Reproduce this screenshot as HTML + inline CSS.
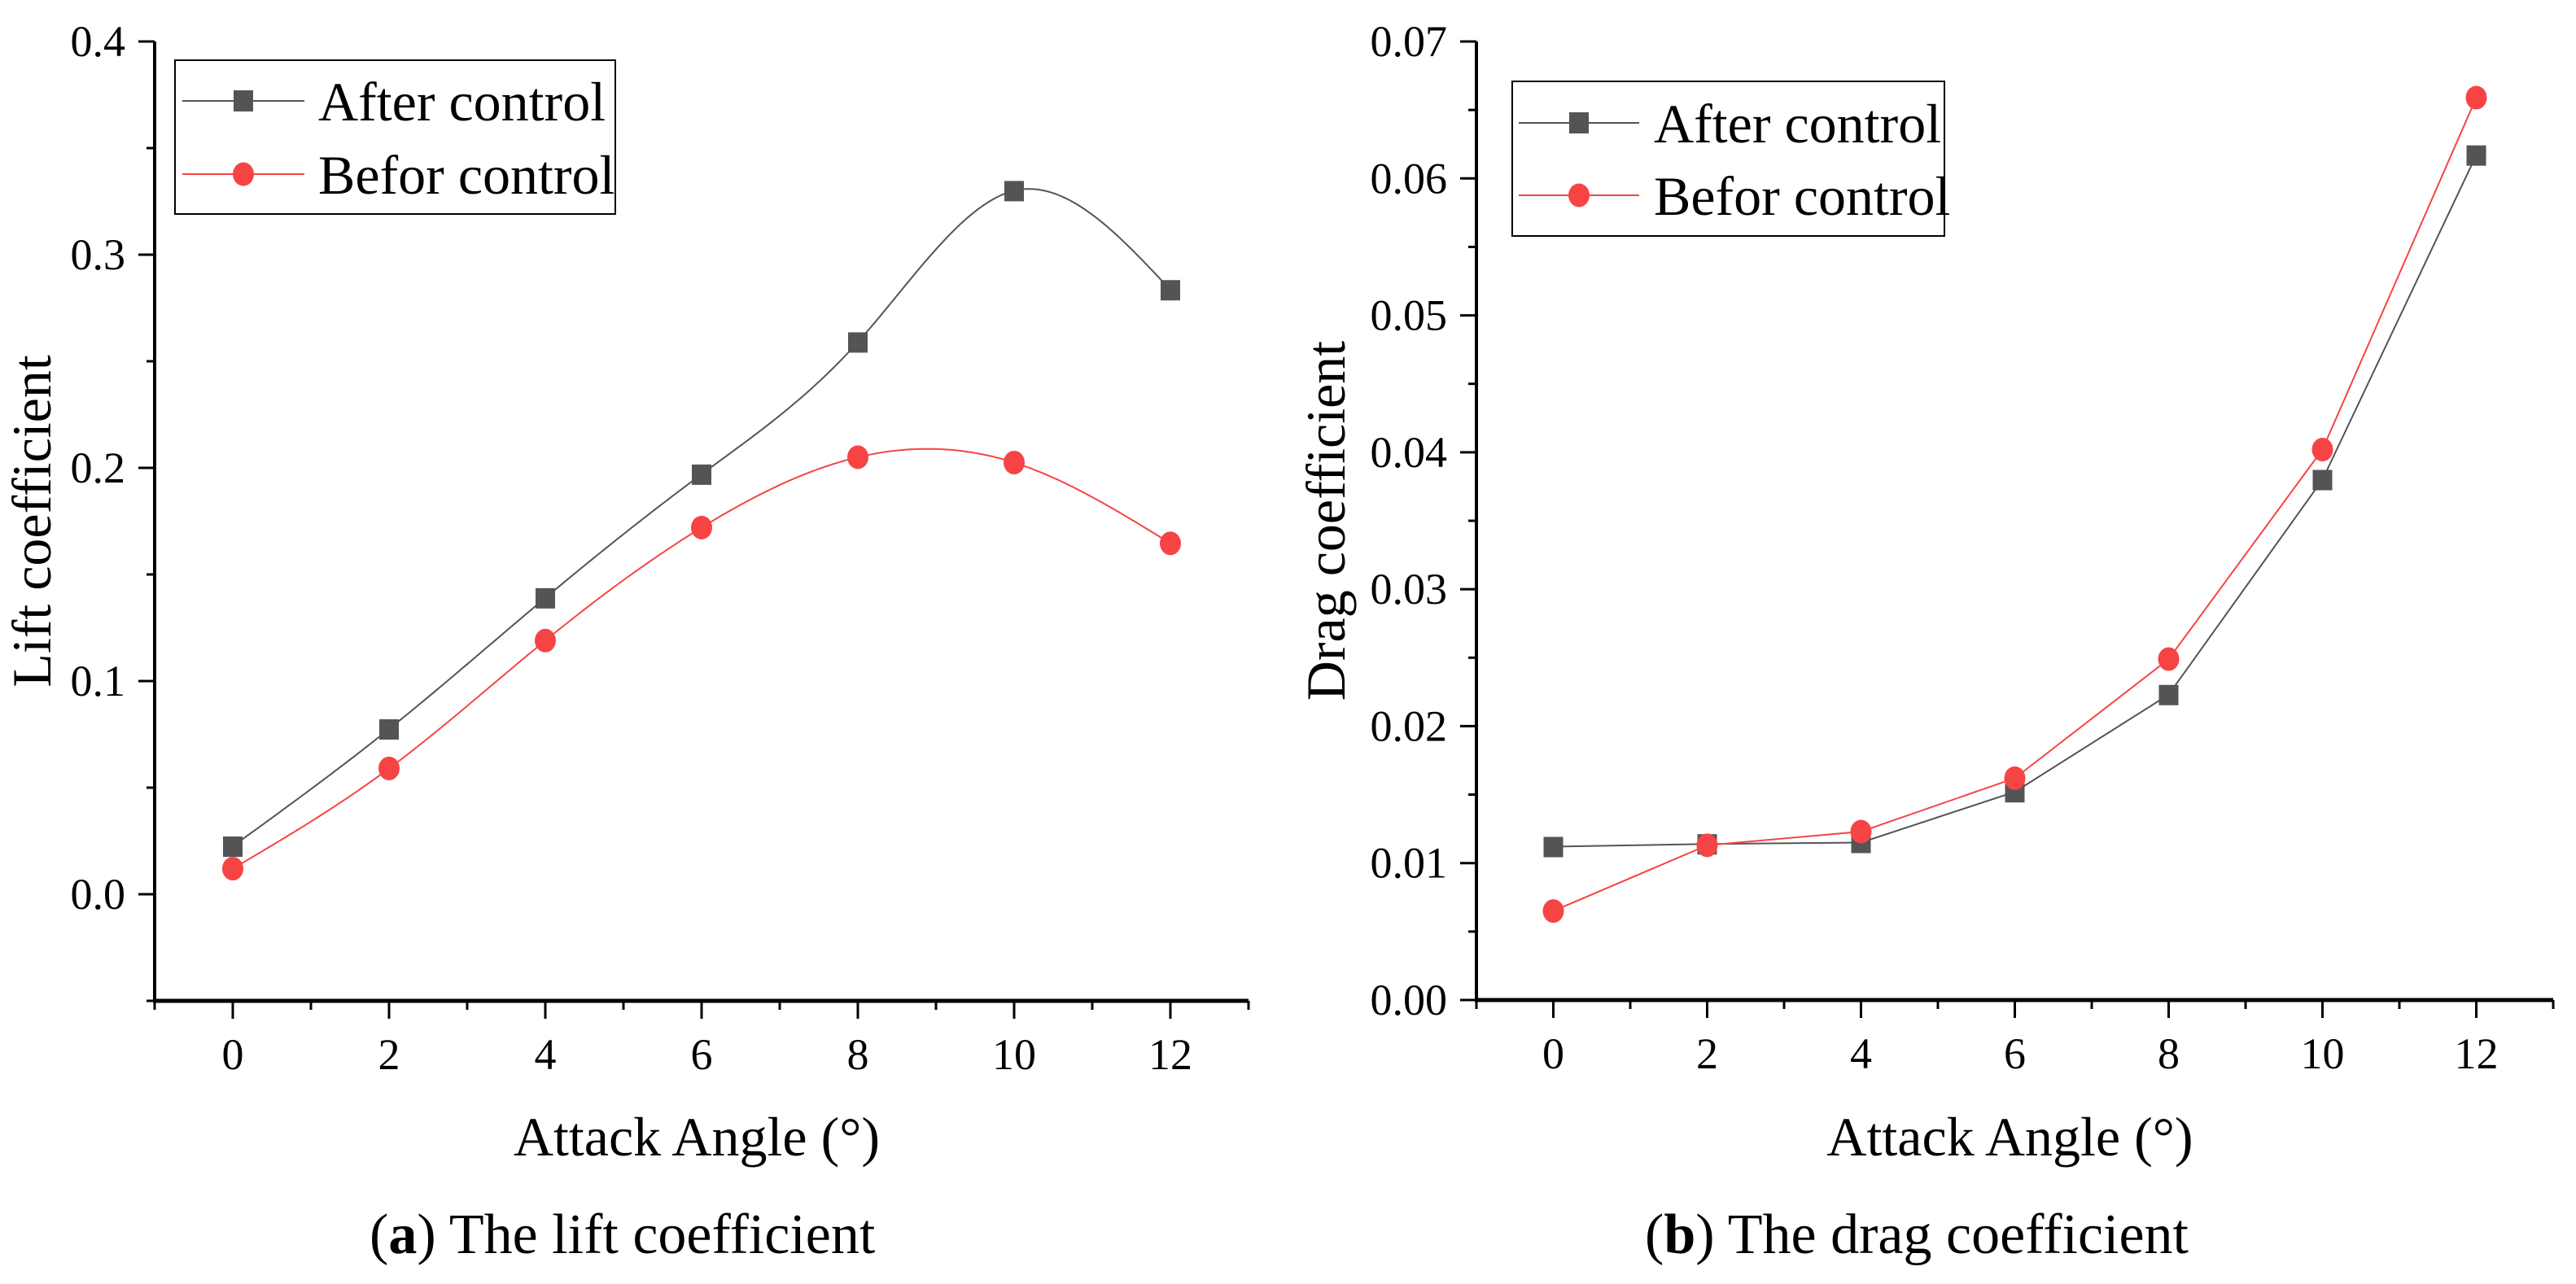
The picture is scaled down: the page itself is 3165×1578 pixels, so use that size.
<!DOCTYPE html>
<html><head><meta charset="utf-8"><style>
html,body{margin:0;padding:0;background:#fff;}
svg{display:block;}
svg text, body{font-family:"Liberation Serif","Times New Roman",Times,"Noto Serif CJK SC","DejaVu Serif",serif;}
</style></head><body>
<svg id="fig" width="3165" height="1578" viewBox="0 0 3165 1578" xmlns="http://www.w3.org/2000/svg"></svg>
<script>
const angles = [0, 2, 4, 6, 8, 10, 12];
const liftAfter = [0.0225, 0.0775, 0.139, 0.197, 0.259, 0.330, 0.2835];
const liftBefore = [0.012, 0.059, 0.119, 0.172, 0.205, 0.2025, 0.1646];
const dragAfter = [0.0112, 0.0114, 0.0115, 0.0152, 0.0223, 0.0380, 0.0617];
const dragBefore = [0.0065, 0.0113, 0.0123, 0.0162, 0.0249, 0.0402, 0.0659];
const xTicks = [0, 2, 4, 6, 8, 10, 12];
const liftYTicks = [0.0, 0.1, 0.2, 0.3, 0.4];
const liftYTickLabels = ["0.0", "0.1", "0.2", "0.3", "0.4"];
const dragYTicks = [0.00, 0.01, 0.02, 0.03, 0.04, 0.05, 0.06, 0.07];
const dragYTickLabels = ["0.00", "0.01", "0.02", "0.03", "0.04", "0.05", "0.06", "0.07"];
const seriesNames = ["After control", "Befor control"];

const NS = "http://www.w3.org/2000/svg";
const svg = document.getElementById('fig');
const GRAY = "#545454", RED = "#f64444";

function mk(tag, attrs, parent) {
  const e = document.createElementNS(NS, tag);
  for (const k in attrs) e.setAttribute(k, attrs[k]);
  if (tag === 'text') e.style.fontFamily = '"Liberation Serif","Times New Roman",Times,"Noto Serif CJK SC","DejaVu Serif",serif';
  (parent || svg).appendChild(e);
  return e;
}

function spline(xs, ys) {
  const n = xs.length, h = [], al = [], l = [1], mu = [0], z = [0], c = new Array(n).fill(0), b = [], d = [];
  for (let i = 0; i < n - 1; i++) h.push(xs[i + 1] - xs[i]);
  for (let i = 1; i < n - 1; i++) al[i] = 3 / h[i] * (ys[i + 1] - ys[i]) - 3 / h[i - 1] * (ys[i] - ys[i - 1]);
  for (let i = 1; i < n - 1; i++) {
    l[i] = 2 * (xs[i + 1] - xs[i - 1]) - h[i - 1] * mu[i - 1];
    mu[i] = h[i] / l[i];
    z[i] = (al[i] - h[i - 1] * z[i - 1]) / l[i];
  }
  c[n - 1] = 0;
  for (let j = n - 2; j >= 1; j--) c[j] = z[j] - mu[j] * c[j + 1];
  c[0] = 0;
  for (let j = 0; j < n - 1; j++) {
    b[j] = (ys[j + 1] - ys[j]) / h[j] - h[j] * (c[j + 1] + 2 * c[j]) / 3;
    d[j] = (c[j + 1] - c[j]) / (3 * h[j]);
  }
  return function (x) {
    let j = 0;
    while (j < n - 2 && x > xs[j + 1]) j++;
    const t = x - xs[j];
    return ys[j] + b[j] * t + c[j] * t * t + d[j] * t * t * t;
  };
}

function chart(o) {
  const g = mk('g', {});
  
  
  const X = v => o.x0 + (v - o.xmin) / (o.xmax - o.xmin) * (o.x1 - o.x0);
  const Y = v => o.y1 - (v - o.ymin) / (o.ymax - o.ymin) * (o.y1 - o.y0);
  const ax = mk('line', {x1: o.x0, y1: o.y0, x2: o.x0, y2: o.y1 + 2, stroke: '#000', 'stroke-width': 4}, g);
  
  
  const bx = mk('line', {x1: o.x0 - 2, y1: o.y1, x2: o.x1, y2: o.y1, stroke: '#000', 'stroke-width': 5}, g);
  
  
  for (let v = o.xmin; v <= o.xmax; v++) {
    const major = xTicks.indexOf(v) >= 0;
    const t = mk('line', {x1: X(v), y1: o.y1, x2: X(v), y2: o.y1 + (major ? 22 : 11), stroke: '#000', 'stroke-width': 3}, g);
    
    
  }
  xTicks.forEach(v => {
    const t = mk('text', {x: X(v), y: o.y1 + 84, 'font-size': 54, 'text-anchor': 'middle'}, g);
    t.textContent = String(v);
    
    
  });
  const step = o.yTicks[1] - o.yTicks[0];
  for (let k = Math.round((o.ymin) / (step / 2)); k * step / 2 <= o.ymax + 1e-9; k++) {
    const v = k * step / 2;
    const major = k % 2 === 0;
    const t = mk('line', {x1: o.x0, y1: Y(v), x2: o.x0 - (major ? 20 : 10), y2: Y(v), stroke: '#000', 'stroke-width': 3}, g);
    
    
  }
  o.yTicks.forEach((v, i) => {
    const t = mk('text', {x: o.x0 - 36, y: Y(v) + 18, 'font-size': 54, 'text-anchor': 'end'}, g);
    t.textContent = o.yLabels[i];
    
    
  });
  const xt = mk('text', {x: (o.x0 + o.x1) / 2 - 6, y: 1420, 'font-size': 68, 'text-anchor': 'middle'}, g);
  xt.textContent = 'Attack Angle (°)';
  
  
  const yt = mk('text', {x: 0, y: 0, 'font-size': 68, 'text-anchor': 'middle', transform: `translate(${o.ylx},${(o.y0 + o.y1) / 2}) rotate(-90)`}, g);
  yt.textContent = o.ylabel;
  
  
  const cap = mk('text', {x: o.capX, y: 1540, 'font-size': 70}, g);
  
  
  cap.innerHTML = '(<tspan font-weight="bold">' + o.capLetter + '</tspan>) ' + o.capText;
  const series = [{ys: o.after, color: GRAY, sq: true, nm: 'series-after-control'}, {ys: o.before, color: RED, sq: false, nm: 'series-befor-control'}];
  series.forEach(s => {
    let d = '';
    if (o.smooth) {
      const f = spline(angles, s.ys);
      for (let i = 0; i <= 240; i++) {
        const xv = angles[0] + (angles[angles.length - 1] - angles[0]) * i / 240;
        d += (i ? 'L' : 'M') + X(xv).toFixed(1) + ',' + Y(f(xv)).toFixed(1);
      }
    } else {
      angles.forEach((a, i) => { d += (i ? 'L' : 'M') + X(a).toFixed(1) + ',' + Y(s.ys[i]).toFixed(1); });
    }
    const p = mk('path', {d: d, fill: 'none', stroke: s.color, 'stroke-width': 2}, g);
    
    
    angles.forEach((a, i) => {
      let m;
      if (s.sq) m = mk('rect', {x: X(a) - 12, y: Y(s.ys[i]) - 12, width: 24, height: 25, fill: GRAY}, g);
      else m = mk('ellipse', {cx: X(a), cy: Y(s.ys[i]), rx: 13, ry: 14.5, fill: RED}, g);
      
      
    });
  });
  const L = o.leg;
  const lg = mk('g', {}, g);
  
  
  mk('rect', {x: L.x, y: L.y, width: L.w, height: L.h, fill: '#fff', stroke: '#000', 'stroke-width': 2}, lg);
  [[L.r1, GRAY, true], [L.r2, RED, false]].forEach((r, i) => {
    const e = mk('g', {}, lg);
    
    
    mk('line', {x1: L.lx0, y1: r[0], x2: L.lx1, y2: r[0], stroke: r[1], 'stroke-width': 2}, e);
    const mx = (L.lx0 + L.lx1) / 2;
    if (r[2]) mk('rect', {x: mx - 12, y: r[0] - 13, width: 24, height: 26, fill: GRAY}, e);
    else mk('ellipse', {cx: mx, cy: r[0], rx: 13, ry: 14.5, fill: RED}, e);
    const t = mk('text', {x: L.tx, y: r[0] + 24, 'font-size': 68}, e);
    t.textContent = seriesNames[i];
  });
}

chart({name: 'lift-chart', x0: 190, x1: 1534, y0: 51, y1: 1230, xmin: -1, xmax: 13, ymin: -0.05, ymax: 0.4,
  yTicks: liftYTicks, yLabels: liftYTickLabels, after: liftAfter, before: liftBefore, smooth: true,
  ylabel: 'Lift coefficient', ylx: 62, capX: 454, capLetter: 'a', capText: 'The lift coefficient',
  leg: {x: 215, y: 74, w: 541, h: 189, r1: 124, r2: 214, lx0: 224, lx1: 374, tx: 391}});
chart({name: 'drag-chart', x0: 1814, x1: 3137, y0: 51, y1: 1229, xmin: -1, xmax: 13, ymin: 0, ymax: 0.07,
  yTicks: dragYTicks, yLabels: dragYTickLabels, after: dragAfter, before: dragBefore, smooth: false,
  ylabel: 'Drag coefficient', ylx: 1652, capX: 2021, capLetter: 'b', capText: 'The drag coefficient',
  leg: {x: 1858, y: 100, w: 531, h: 190, r1: 151, r2: 240, lx0: 1866, lx1: 2014, tx: 2032}});
</script>
</body></html>
